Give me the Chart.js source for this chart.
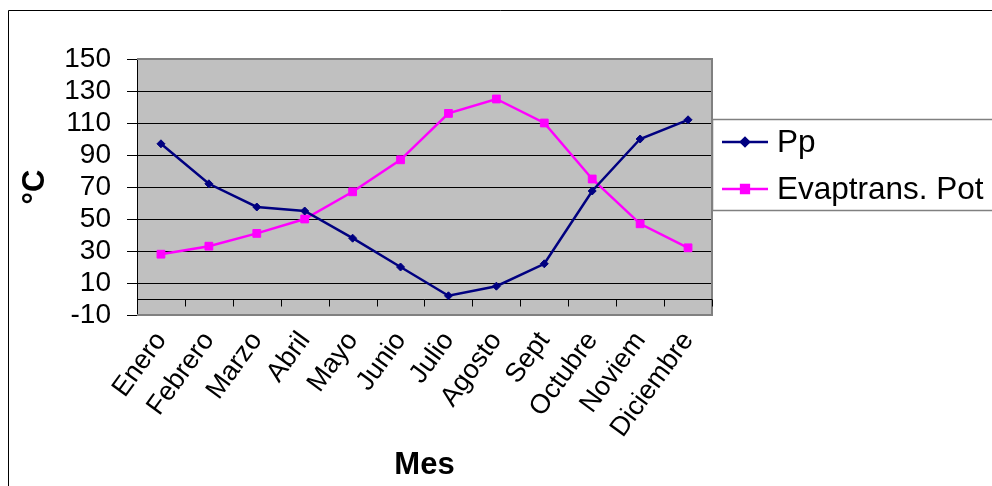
<!DOCTYPE html>
<html>
<head>
<meta charset="utf-8">
<style>
  html, body { margin: 0; padding: 0; background: #fff; }
  #wrap { width: 992px; height: 486px; position: relative; }
</style>
<script src="https://cdn.jsdelivr.net/npm/chart.js@4.4.1/dist/chart.umd.min.js"></script>
</head>
<body>
<div id="wrap"><canvas id="chart"></canvas></div>
<script>
const MONTHS = ['Enero', 'Febrero', 'Marzo', 'Abril', 'Mayo', 'Junio', 'Julio', 'Agosto', 'Sept', 'Octubre', 'Noviem', 'Diciembre'];
const PP = [97, 72, 57.5, 55, 38, 20, 2, 8, 22, 67.5, 100, 112];
const EVAP = [28, 33, 41, 50, 67, 87, 116, 125, 110, 75, 47, 32];
const Y_MIN = -10;
const Y_MAX = 150;
const Y_STEP = 20;

const FONT = "'Liberation Sans', Arial, sans-serif";

// plot background, frame, zero axis and the boxed legend on the right
const excelLook = {
  id: 'excelLook',
  beforeDraw(chart) {
    const { ctx, chartArea: a } = chart;
    ctx.save();
    ctx.fillStyle = '#c0c0c0';
    ctx.fillRect(a.left, a.top, a.right - a.left, a.bottom - a.top);
    // outer chart frame
    ctx.strokeStyle = '#000';
    ctx.lineWidth = 1;
    ctx.beginPath();
    ctx.moveTo(8.5, chart.height);
    ctx.lineTo(8.5, 10.5);
    ctx.lineTo(chart.width, 10.5);
    ctx.stroke();
    ctx.restore();
  },
  beforeDatasetsDraw(chart) {
    const { ctx, chartArea: a } = chart;
    const x = chart.scales.x;
    const y = chart.scales.y;
    ctx.save();
    // plot border (top, right, bottom)
    ctx.strokeStyle = '#808080';
    ctx.lineWidth = 2;
    ctx.beginPath();
    ctx.moveTo(a.left, a.top);
    ctx.lineTo(a.right, a.top);
    ctx.lineTo(a.right, a.bottom);
    ctx.lineTo(a.left, a.bottom);
    ctx.stroke();
    // category axis crossing at 0
    const y0 = Math.round(y.getPixelForValue(0)) + 0.5;
    ctx.strokeStyle = '#000';
    ctx.lineWidth = 1;
    ctx.beginPath();
    ctx.moveTo(a.left, y0);
    ctx.lineTo(a.right, y0);
    const step = (a.right - a.left) / MONTHS.length;
    for (let i = 1; i <= MONTHS.length; i += 1) {
      const px = Math.round(x.getPixelForValue(i - 1) + step / 2) + 0.5;
      ctx.moveTo(px, y0);
      ctx.lineTo(px, y0 + 7);
    }
    ctx.stroke();
    ctx.restore();
  },
  afterDraw(chart) {
    const { ctx, chartArea: a } = chart;
    const left = a.right;
    const top = a.top + 60;
    const h = 91;
    ctx.save();
    ctx.fillStyle = '#fff';
    ctx.fillRect(left, top, chart.width - left + 5, h);
    ctx.strokeStyle = '#808080';
    ctx.lineWidth = 1.5;
    ctx.strokeRect(left + 0.5, top + 0.5, chart.width - left + 5, h);
    ctx.font = `31.5px ${FONT}`;
    ctx.textBaseline = 'middle';
    ctx.fillStyle = '#000';
    chart.data.datasets.forEach((ds, i) => {
      const cy = top + 23 + i * 47;
      ctx.strokeStyle = ds.borderColor;
      ctx.lineWidth = 2.5;
      ctx.beginPath();
      ctx.moveTo(left + 10, cy);
      ctx.lineTo(left + 56, cy);
      ctx.stroke();
      Chart.helpers.drawPoint(ctx, {
        pointStyle: ds.pointStyle,
        radius: ds.pointRadius,
        borderWidth: 1
      }, left + 33, cy);
      ctx.fillStyle = ds.borderColor;
      ctx.fill();
      ctx.fillStyle = '#000';
      ctx.fillText(ds.label, left + 65, cy + 1);
    });
    ctx.restore();
  }
};

new Chart(document.getElementById('chart'), {
  type: 'line',
  data: {
    labels: MONTHS,
    datasets: [
      {
        label: 'Pp',
        data: PP,
        borderColor: '#000080',
        backgroundColor: '#000080',
        borderWidth: 2.5,
        pointStyle: 'rectRot',
        pointRadius: 4,
        pointBorderWidth: 1,
        tension: 0
      },
      {
        label: 'Evaptrans. Pot',
        data: EVAP,
        borderColor: '#ff00ff',
        backgroundColor: '#ff00ff',
        borderWidth: 2.5,
        pointStyle: 'rect',
        pointRadius: 5.5,
        pointBorderWidth: 1,
        tension: 0
      }
    ]
  },
  options: {
    responsive: true,
    maintainAspectRatio: false,
    animation: false,
    events: [],
    layout: { padding: { left: 0, top: 59, right: 280, bottom: 0 } },
    plugins: {
      legend: { display: false },
      tooltip: { enabled: false }
    },
    scales: {
      x: {
        offset: true,
        grid: { display: false },
        border: { display: false },
        ticks: {
          color: '#000',
          font: { family: FONT, size: 27 },
          maxRotation: 54,
          minRotation: 54,
          autoSkip: false,
          padding: 3
        },
        title: {
          display: true,
          text: 'Mes',
          color: '#000',
          font: { family: FONT, size: 31, weight: 'bold' },
          padding: { top: 0, bottom: 2 }
        },
        afterFit: (scale) => { scale.height = 171; }
      },
      y: {
        min: Y_MIN,
        max: Y_MAX,
        ticks: {
          stepSize: Y_STEP,
          autoSkip: false,
          color: '#000',
          font: { family: FONT, size: 28 },
          padding: 16
        },
        grid: {
          color: '#000',
          lineWidth: 1,
          tickLength: 10,
          tickColor: '#000'
        },
        border: { color: '#000', width: 1 },
        title: {
          display: true,
          text: '°C',
          color: '#000',
          font: { family: FONT, size: 31, weight: 'bold' },
          padding: { top: 17, bottom: 0 }
        },
        afterFit: (scale) => { scale.width = 137; }
      }
    }
  },
  plugins: [excelLook]
});
</script>
</body>
</html>
